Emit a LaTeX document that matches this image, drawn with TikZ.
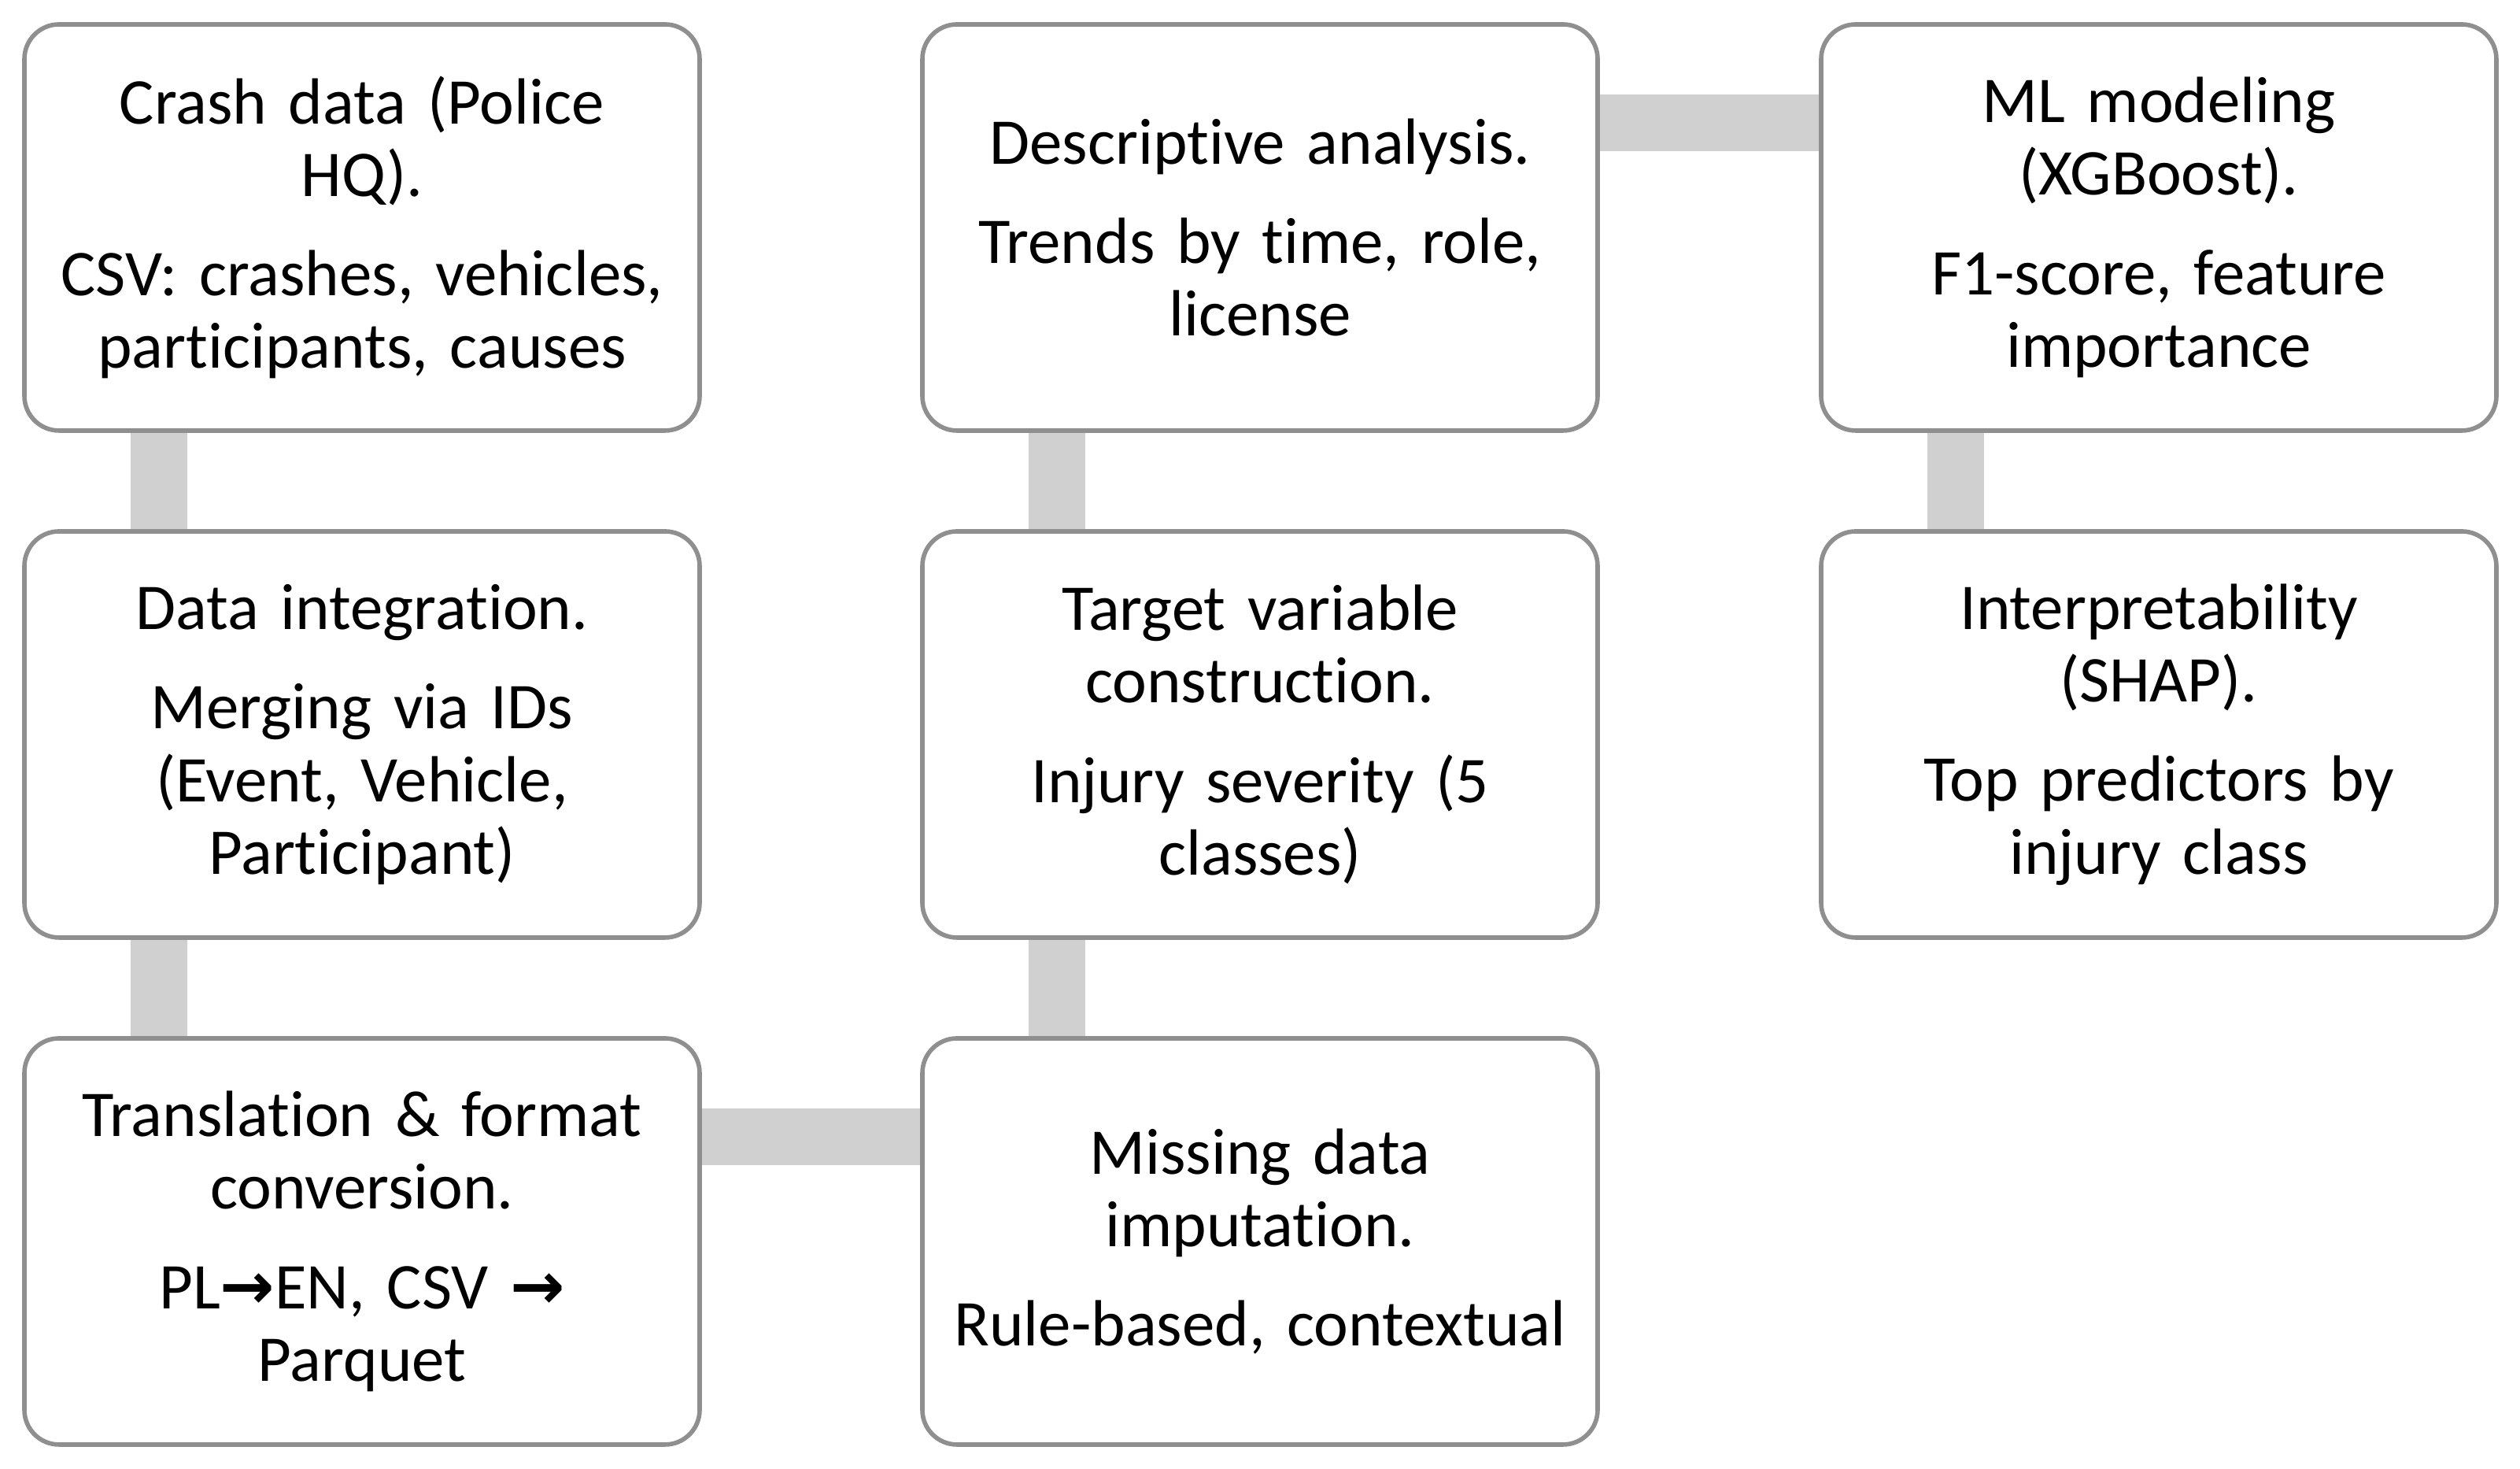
\documentclass[tikz,border=0pt]{standalone}
\usepackage{fontspec}
\setmainfont[Ligatures=NoCommon]{Carlito}
\newfontfamily\arrowfont{DejaVu Sans}
\definecolor{mBorder}{HTML}{8F8F8F}
\definecolor{mBar}{HTML}{D0D0D0}
\usetikzlibrary{calc,backgrounds}
\newcommand{\rarr}{{\arrowfont\bfseries\char"2192}}

\begin{document}
\begin{tikzpicture}[
  stepbox/.style={draw=mBorder, line width=0.8pt, fill=white, rounded corners=0.22cm,
    minimum width=4.29cm, minimum height=2.58cm, text width=4.1cm, align=center,
    inner sep=0pt, font=\fontsize{11.8}{13.1}\selectfont},
  bar/.style={mBar, line width=0.36cm}]
\useasboundingbox (0,0) rectangle (16.01,9.33);
\node[stepbox] (crash)  at (2.30,7.885)  {Crash data (Police\\HQ).\\[4.9pt]CSV: crashes, vehicles,\\participants, causes};
\node[stepbox] (integ)  at (2.30,4.665)  {Data integration.\\[4.9pt]Merging via IDs\\(Event, Vehicle,\\Participant)};
\node[stepbox] (transl) at (2.30,1.445)  {Translation \& format\\conversion.\\[4.9pt]PL\rarr EN, CSV \rarr\\Parquet};
\node[stepbox] (impute) at (8.005,1.445) {Missing data\\imputation.\\[4.9pt]Rule-based, contextual};
\node[stepbox] (target) at (8.005,4.665) {Target variable\\construction.\\[4.9pt]Injury severity (5\\classes)};
\node[stepbox] (descr)  at (8.005,7.885) {Descriptive analysis.\\[4.9pt]Trends by time, role,\\license};
\node[stepbox] (mlmod)  at (13.715,7.885) {ML modeling\\(XGBoost).\\[4.9pt]F1-score, feature\\importance};
\node[stepbox] (shap)   at (13.715,4.665) {Interpretability\\(SHAP).\\[4.9pt]Top predictors by\\injury class};
\begin{scope}[on background layer]
\draw[bar] ($(crash.south west)+(0.87,0)$) -- ($(integ.north west)+(0.87,0)$);
\draw[bar] ($(integ.south west)+(0.87,0)$) -- ($(transl.north west)+(0.87,0)$);
\draw[bar] ($(transl.north east)+(0,-0.64)$) -- ($(impute.north west)+(0,-0.64)$);
\draw[bar] ($(impute.north west)+(0.87,0)$) -- ($(target.south west)+(0.87,0)$);
\draw[bar] ($(target.north west)+(0.87,0)$) -- ($(descr.south west)+(0.87,0)$);
\draw[bar] ($(descr.north east)+(0,-0.64)$) -- ($(mlmod.north west)+(0,-0.64)$);
\draw[bar] ($(mlmod.south west)+(0.87,0)$) -- ($(shap.north west)+(0.87,0)$);
\end{scope}
\end{tikzpicture}
\end{document}
